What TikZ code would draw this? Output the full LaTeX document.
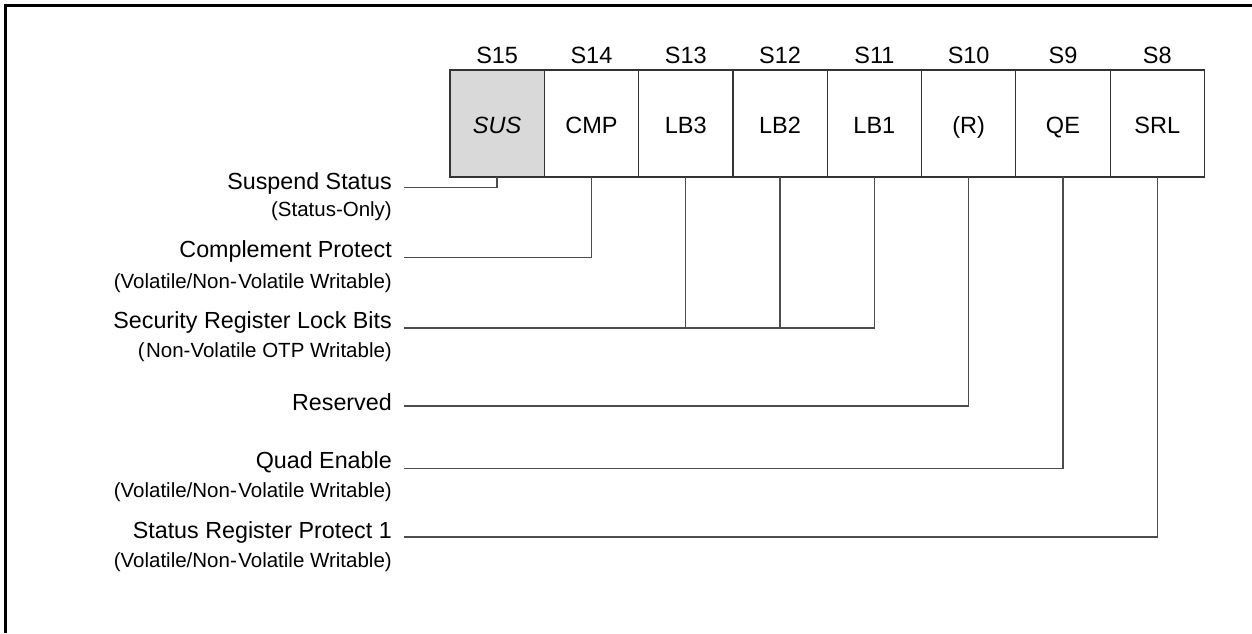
\documentclass[tikz,border=0pt]{standalone}
\usepackage{fontspec}
\setmainfont{Liberation Sans}
\begin{document}
\begin{tikzpicture}[x=1pt,y=-1pt,
  cellbox/.style={draw=black!80, line width=1.2pt, minimum width=94.3pt, minimum height=107pt, inner sep=0pt, outer sep=0pt},
  hdr/.style={font=\fontsize{23.5}{28}\selectfont, anchor=base, inner sep=0pt},
  celltxt/.style={font=\fontsize{23.5}{28}\selectfont, anchor=base, inner sep=0pt},
  mainlbl/.style={font=\fontsize{23.3}{28}\selectfont, anchor=base east, inner sep=0pt},
  sublbl/.style={font=\fontsize{20.5}{24}\selectfont, anchor=base east, inner sep=0pt},
  conn/.style={draw=black!70, line width=1.4pt}]
\useasboundingbox (0,0) rectangle (1252,633);
% partial frame
\draw[line width=2.8pt] (5.8,633) -- (5.8,5.3) -- (1252,5.3);

% register cells
\foreach \i/\nm/\hd/\tx/\fc in {0/c15/S15/\textit{SUS}/black!15,1/c14/S14/CMP/white,2/c13/S13/LB3/white,3/c12/S12/LB2/white,4/c11/S11/LB1/white,5/c10/S10/(R)/white,6/c9/S9/QE/white,7/c8/S8/SRL/white}{
  \node[cellbox, fill=\fc] (\nm) at ({497.15+94.3*\i},123.5) {};
  \node[hdr] (h\nm) at ({497.15+94.3*\i},63) {\hd};
  \node[celltxt] (t\nm) at ({497.15+94.3*\i},133) {\tx};
}

% labels
\node[mainlbl] (l15) at (392,189) {Suspend Status};
\node[sublbl] (s15) at (392,216) {(Status-Only)};
\node[mainlbl] (l14) at (392,257) {Complement Protect};
\node[sublbl] (s14) at (392,288) {(Volatile/Non-\kern1.5pt Volatile Writable)};
\node[mainlbl] (l13) at (392,328) {Security Register Lock Bits};
\node[sublbl] (s13) at (392,357) {(\kern1.5pt Non-Volatile OTP Writable)};
\node[mainlbl] (l10) at (392,410) {Reserved};
\node[mainlbl] (l9) at (392,468) {Quad Enable};
\node[sublbl] (s9) at (392,497) {(Volatile/Non-\kern1.5pt Volatile Writable)};
\node[mainlbl] (l8) at (392,538) {Status Register Protect 1};
\node[sublbl] (s8) at (392,567) {(Volatile/Non-\kern1.5pt Volatile Writable)};

% connector start points
\coordinate (a15) at (404,187.5);
\coordinate (a14) at (404,257.5);
\coordinate (a13) at (404,328);
\coordinate (a10) at (404,406);
\coordinate (a9) at (404,468.3);
\coordinate (a8) at (404,537);

% connectors
\draw[conn] (a15) -| (c15.south);
\draw[conn] (a14) -| (c14.south);
\draw[conn] (a13) -| (c11.south);
\draw[conn] (c13.south) -- (c13.south |- a13);
\draw[conn] (c12.south) -- (c12.south |- a13);
\draw[conn] (a10) -| (c10.south);
\draw[conn] (a9) -| (c9.south);
\draw[conn] (a8) -| (c8.south);
\end{tikzpicture}
\end{document}
